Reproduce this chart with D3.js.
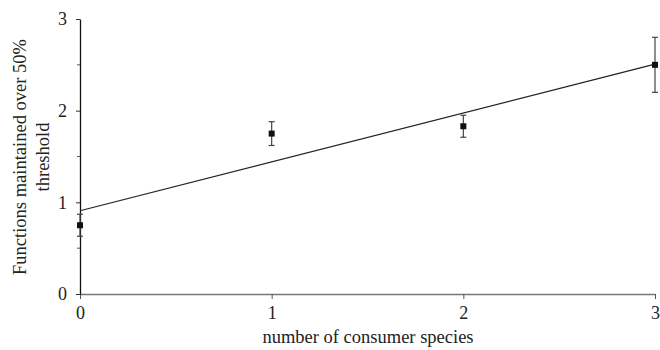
<!DOCTYPE html>
<html><head><meta charset="utf-8">
<script src="https://cdn.jsdelivr.net/npm/d3@7"></script>
<style>body{margin:0;background:#fff}svg{display:block}svg text{font-family:"Liberation Serif","Times New Roman",serif !important;fill:#222}</style>
</head><body><svg id="c" width="660" height="350"></svg>
<script>
const consumers = [0, 1, 2, 3];
const functionsMaintained = [0.75, 1.75, 1.83, 2.5];
const errors = [0.12, 0.13, 0.12, 0.3];
const xTicks = [0, 1, 2, 3];
const yTicks = [0, 1, 2, 3];
const yMinorTicks = [0.5, 1.5, 2.5];
const yTitle = ["Functions maintained over 50%", "threshold"];
const xTitle = "number of consumer species";

const svg = d3.select("#c");
const x = d3.scaleLinear().domain([0, 3]).range([80, 655]);
const y = d3.scaleLinear().domain([0, 3]).range([294, 19]);

// x axis
const gx = svg.append("g").attr("transform", `translate(0,${y(0)})`)
  .call(d3.axisBottom(x).tickValues(xTicks).tickFormat(d3.format("d")).tickSize(5).tickSizeOuter(0));
gx.attr("font-family", null);
gx.select(".domain").attr("stroke", "#777").attr("stroke-width", 1.5);
gx.selectAll(".tick line").attr("stroke", "#555");
gx.selectAll(".tick text").attr("font-size", 18).attr("y", 12).attr("dy", "0.71em").attr("fill", "#222");

// y axis
const gy = svg.append("g").attr("transform", `translate(${x(0)},0)`)
  .call(d3.axisLeft(y).tickValues(yTicks).tickFormat(d3.format("d")).tickSize(4).tickSizeOuter(0));
gy.attr("font-family", null);
gy.select(".domain").attr("stroke", "#111").attr("stroke-width", 1.3);
gy.selectAll(".tick line").attr("stroke", "#333");
gy.selectAll(".tick text").attr("font-size", 18).attr("x", -13).attr("fill", "#222");
svg.append("g").selectAll("line").data(yMinorTicks).join("line")
  .attr("x1", x(0) - 3).attr("x2", x(0)).attr("y1", d => y(d)).attr("y2", d => y(d))
  .attr("stroke", "#555");

// regression line
const mx = d3.mean(consumers), my = d3.mean(functionsMaintained);
const slope = d3.sum(consumers, (c, i) => (c - mx) * (functionsMaintained[i] - my)) / d3.sum(consumers, c => (c - mx) ** 2);
const intercept = my - slope * mx;
svg.append("line")
  .attr("x1", x(0)).attr("y1", y(intercept))
  .attr("x2", x(3)).attr("y2", y(intercept + slope * 3))
  .attr("stroke", "#222").attr("stroke-width", 1.2);

// error bars
const eb = svg.append("g").attr("stroke", "#444").attr("stroke-width", 1.2);
consumers.forEach((c, i) => {
  const v = functionsMaintained[i], e = errors[i];
  eb.append("line").attr("x1", x(c)).attr("x2", x(c)).attr("y1", y(v - e)).attr("y2", y(v + e));
  [v - e, v + e].forEach(t => eb.append("line").attr("x1", x(c) - 3).attr("x2", x(c) + 3).attr("y1", y(t)).attr("y2", y(t)));
});

// markers
svg.append("g").selectAll("rect").data(consumers).join("rect")
  .attr("x", d => x(d) - 3).attr("y", (d, i) => y(functionsMaintained[i]) - 3)
  .attr("width", 6).attr("height", 6).attr("fill", "#111");

// titles
const yt = svg.append("text").attr("transform", "translate(0,157) rotate(-90)")
  .attr("text-anchor", "middle").attr("font-size", 18.5);
yTitle.forEach((t, i) => yt.append("tspan").attr("x", 0).attr("y", 26 + i * 23).text(t));
svg.append("text").attr("x", 368).attr("y", 343).attr("text-anchor", "middle").attr("font-size", 18.5).text(xTitle);
</script></body></html>
